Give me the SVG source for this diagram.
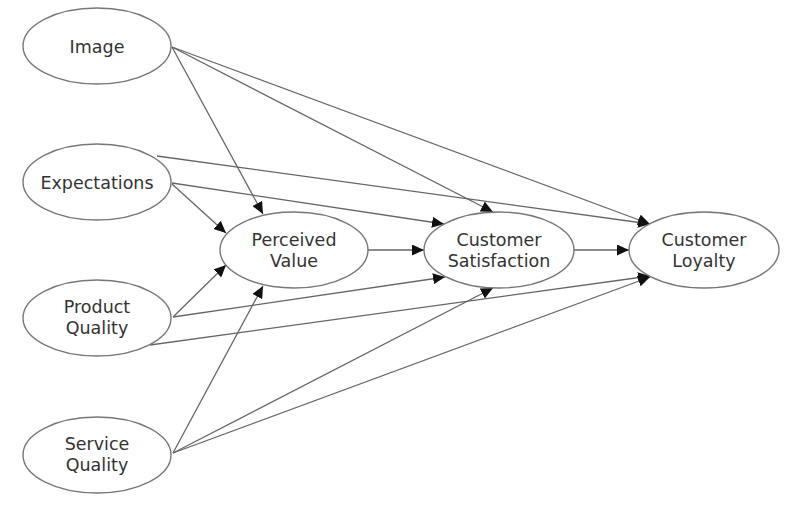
<svg xmlns="http://www.w3.org/2000/svg" width="789" height="505" viewBox="0 0 789 505">
<style>
.node ellipse{fill:#fff;stroke:#777;stroke-width:1.4}
.node text{font-family:"DejaVu Sans",Verdana,sans-serif;font-size:17.5px;fill:#333;text-anchor:middle}
.edges line{stroke:#666;stroke-width:1.3;marker-end:url(#arr)}
</style>
<defs>
<marker id="arr" markerUnits="userSpaceOnUse" markerWidth="13" markerHeight="11" refX="12" refY="5.5" orient="auto">
<path d="M0,0 L12,5.5 L0,11 z" fill="#111"/>
</marker>
</defs>
<rect width="789" height="505" fill="#fff"/>
<g class="edges">
<line x1="172" y1="47" x2="263" y2="214"/>
<line x1="172" y1="47" x2="493" y2="212"/>
<line x1="172" y1="47" x2="650" y2="224"/>
<line x1="157" y1="156" x2="650" y2="224"/>
<line x1="172" y1="183" x2="444" y2="224"/>
<line x1="172" y1="184" x2="226" y2="233"/>
<line x1="368" y1="250" x2="424" y2="250"/>
<line x1="574" y1="250" x2="629" y2="250"/>
<line x1="173" y1="317" x2="226" y2="265"/>
<line x1="173" y1="317" x2="445" y2="277"/>
<line x1="150" y1="345" x2="650" y2="276"/>
<line x1="173" y1="453" x2="263" y2="286"/>
<line x1="173" y1="453" x2="493" y2="288"/>
<line x1="173" y1="453" x2="650" y2="277"/>
</g>
<g id="image" class="node"><ellipse cx="97" cy="46" rx="74" ry="38"/><text x="97" y="53">Image</text></g>
<g id="expectations" class="node"><ellipse cx="97" cy="182" rx="74" ry="38"/><text x="97" y="189">Expectations</text></g>
<g id="product-quality" class="node"><ellipse cx="97" cy="318" rx="74" ry="38"/><text x="97" y="313">Product</text><text x="97" y="334">Quality</text></g>
<g id="service-quality" class="node"><ellipse cx="97" cy="455" rx="74" ry="38"/><text x="97" y="450">Service</text><text x="97" y="471">Quality</text></g>
<g id="perceived-value" class="node"><ellipse cx="294" cy="250" rx="74" ry="38"/><text x="294" y="246">Perceived</text><text x="294" y="267">Value</text></g>
<g id="customer-satisfaction" class="node"><ellipse cx="499" cy="250" rx="75" ry="38"/><text x="499" y="246">Customer</text><text x="499" y="267">Satisfaction</text></g>
<g id="customer-loyalty" class="node"><ellipse cx="704" cy="250" rx="75" ry="38"/><text x="704" y="246">Customer</text><text x="704" y="267">Loyalty</text></g>
</svg>
